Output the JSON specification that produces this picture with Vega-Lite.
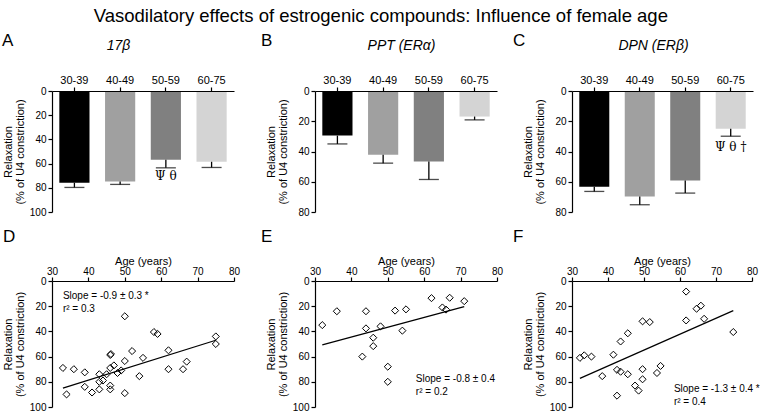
{
  "$schema": "https://vega.github.io/schema/vega-lite/v6.json",
  "title": {"text": "Vasodilatory effects of estrogenic compounds: Influence of female age", "fontSize": 18.5, "fontWeight": "normal", "anchor": "middle", "offset": 7, "color": "#000"},
  "padding": {"left": 2, "top": 6, "right": 0, "bottom": 0},
  "spacing": 10,
  "resolve": {"scale": {"color": "shared"}},
  "hconcat": [
    {"hconcat": [
      {"vconcat": [
        {
          "title": {"text": "A", "anchor": "start", "frame": "group", "dx": -50, "offset": -12, "fontSize": 17, "fontWeight": "normal"},
          "width": 182, "height": 121,
          "data": {"values": [
            {"age": "30-39", "mean": 75.8, "upper": 79.7},
            {"age": "40-49", "mean": 74.7, "upper": 77.2},
            {"age": "50-59", "mean": 56.9, "upper": 63.5},
            {"age": "60-75", "mean": 58.5, "upper": 63.2}
          ]},
          "encoding": {"x": {"field": "age", "type": "nominal", "sort": null, "scale": {"paddingInner": 0.34, "paddingOuter": 0.16},
            "axis": {"orient": "top", "labelAngle": 0, "title": "17β", "titleFontStyle": "italic", "titleFontSize": 14, "titlePadding": 22, "titleX": 66, "labelFontSize": 11, "labelPadding": 2, "zindex": 1}}},
          "layer": [
            {"mark": {"type": "bar"}, "encoding": {
              "y": {"field": "mean", "type": "quantitative", "scale": {"domain": [0, 100], "reverse": true},
                "axis": {"values": [0, 20, 40, 60, 80, 100], "tickCount": 12, "labelOverlap": false, "title": ["Relaxation", "(% of U4 constriction)"], "titleFontSize": 11, "titleLineHeight": 12, "labelFontSize": 10, "labelPadding": 2, "minExtent": 22, "maxExtent": 22, "titlePadding": 5}},
              "color": {"field": "age", "type": "nominal", "scale": {"domain": ["30-39", "40-49", "50-59", "60-75"], "range": ["#000000", "#a0a0a0", "#808080", "#d4d4d4"]}, "legend": null}}},
            {"mark": {"type": "rule", "color": "#000", "strokeWidth": 1.3}, "encoding": {"y": {"field": "mean", "type": "quantitative"}, "y2": {"field": "upper"}}},
            {"mark": {"type": "tick", "color": "#000", "thickness": 1.3, "size": 20, "orient": "horizontal"}, "encoding": {"y": {"field": "upper", "type": "quantitative"}}},
            {"data": {"values": [{}]}, "mark": {"type": "text", "text": "Ψ θ", "font": "DejaVu Serif", "fontSize": 12, "color": "#000", "baseline": "middle", "align": "center"}, "encoding": {"x": {"datum": "50-59"}, "y": {"datum": 70}}}
          ]
        },
        {
          "title": {"text": "D", "anchor": "start", "frame": "group", "dx": -49, "offset": 9, "fontSize": 17, "fontWeight": "normal"},
          "width": 182, "height": 126,
          "layer": [
            {"data": {"values": [
              {"age": 33, "relax": 69}, {"age": 34, "relax": 90}, {"age": 36, "relax": 70}, {"age": 39, "relax": 72.5},
              {"age": 39, "relax": 84}, {"age": 41, "relax": 88.5}, {"age": 43, "relax": 74}, {"age": 43, "relax": 80},
              {"age": 43, "relax": 86}, {"age": 44, "relax": 79}, {"age": 45, "relax": 74}, {"age": 46, "relax": 58.7},
              {"age": 46.2, "relax": 58}, {"age": 46, "relax": 69}, {"age": 46, "relax": 83}, {"age": 46, "relax": 86},
              {"age": 47, "relax": 67}, {"age": 48, "relax": 73}, {"age": 49, "relax": 71}, {"age": 50, "relax": 28},
              {"age": 50, "relax": 63.5}, {"age": 50, "relax": 89}, {"age": 52, "relax": 55.6}, {"age": 54, "relax": 75.5},
              {"age": 55, "relax": 61}, {"age": 58, "relax": 40.5}, {"age": 59, "relax": 42}, {"age": 62, "relax": 55},
              {"age": 62, "relax": 70}, {"age": 66, "relax": 70}, {"age": 67, "relax": 64}, {"age": 75, "relax": 44},
              {"age": 75, "relax": 50}
            ]},
              "mark": {"type": "point", "shape": "diamond", "filled": false, "size": 50, "color": "#000", "strokeWidth": 1, "opacity": 1},
              "encoding": {
                "x": {"field": "age", "type": "quantitative", "scale": {"domain": [30, 80], "nice": false},
                  "axis": {"orient": "top", "values": [30, 40, 50, 60, 70, 80], "tickCount": 12, "labelOverlap": false, "title": "Age (years)", "titleFontSize": 11, "titlePadding": 0, "labelFontSize": 10, "labelPadding": 1, "labelFlush": false}},
                "y": {"field": "relax", "type": "quantitative", "scale": {"domain": [0, 100], "reverse": true},
                  "axis": {"values": [0, 20, 40, 60, 80, 100], "tickCount": 12, "labelOverlap": false, "title": ["Relaxation", "(% of U4 constriction)"], "titleFontSize": 11, "titleLineHeight": 12, "labelFontSize": 10, "labelPadding": 2, "minExtent": 22, "maxExtent": 22, "titlePadding": 5}}}},
            {"data": {"values": [{"age": 33, "relax": 85}, {"age": 75, "relax": 47}]},
              "mark": {"type": "line", "color": "#000", "strokeWidth": 1.2},
              "encoding": {"x": {"field": "age", "type": "quantitative"}, "y": {"field": "relax", "type": "quantitative"}}},
            {"data": {"values": [{}]},
              "mark": {"type": "text", "text": ["Slope = -0.9 ± 0.3  *", "r² = 0.3"], "align": "left", "baseline": "top", "fontSize": 10, "lineHeight": 13, "color": "#000"},
              "encoding": {"x": {"datum": 33}, "y": {"datum": 8}}}
          ]
        }
      ], "spacing": 11},
      {"vconcat": [
        {
          "title": {"text": "B", "anchor": "start", "frame": "group", "dx": -54, "offset": -12, "fontSize": 17, "fontWeight": "normal"},
          "width": 182, "height": 121,
          "data": {"values": [
            {"age": "30-39", "mean": 29.5, "upper": 35},
            {"age": "40-49", "mean": 42.2, "upper": 47.7},
            {"age": "50-59", "mean": 46.6, "upper": 58.5},
            {"age": "60-75", "mean": 16.9, "upper": 19.1}
          ]},
          "encoding": {"x": {"field": "age", "type": "nominal", "sort": null, "scale": {"paddingInner": 0.34, "paddingOuter": 0.16},
            "axis": {"orient": "top", "labelAngle": 0, "title": "PPT (ERα)", "titleFontStyle": "italic", "titleFontSize": 14, "titlePadding": 22, "titleX": 86, "labelFontSize": 11, "labelPadding": 2, "zindex": 1}}},
          "layer": [
            {"mark": {"type": "bar"}, "encoding": {
              "y": {"field": "mean", "type": "quantitative", "scale": {"domain": [0, 80], "reverse": true},
                "axis": {"values": [0, 20, 40, 60, 80], "tickCount": 12, "labelOverlap": false, "title": ["Relaxation", "(% of U4 constriction)"], "titleFontSize": 11, "titleLineHeight": 12, "labelFontSize": 10, "labelPadding": 2, "minExtent": 22, "maxExtent": 22, "titlePadding": 5}},
              "color": {"field": "age", "type": "nominal", "legend": null}}},
            {"mark": {"type": "rule", "color": "#000", "strokeWidth": 1.3}, "encoding": {"y": {"field": "mean", "type": "quantitative"}, "y2": {"field": "upper"}}},
            {"mark": {"type": "tick", "color": "#000", "thickness": 1.3, "size": 20, "orient": "horizontal"}, "encoding": {"y": {"field": "upper", "type": "quantitative"}}}
          ]
        },
        {
          "title": {"text": "E", "anchor": "start", "frame": "group", "dx": -54, "offset": 9, "fontSize": 17, "fontWeight": "normal"},
          "width": 182, "height": 126,
          "layer": [
            {"data": {"values": [
              {"age": 32, "relax": 35}, {"age": 36, "relax": 24}, {"age": 43, "relax": 60}, {"age": 44, "relax": 24},
              {"age": 44, "relax": 37.6}, {"age": 46, "relax": 45}, {"age": 46, "relax": 51.7}, {"age": 48, "relax": 36},
              {"age": 50, "relax": 68}, {"age": 50, "relax": 80}, {"age": 52, "relax": 23.5}, {"age": 54, "relax": 39.4},
              {"age": 55, "relax": 22.5}, {"age": 62, "relax": 13.6}, {"age": 65, "relax": 21}, {"age": 66, "relax": 22.7},
              {"age": 67, "relax": 13.3}, {"age": 71, "relax": 16}
            ]},
              "mark": {"type": "point", "shape": "diamond", "filled": false, "size": 50, "color": "#000", "strokeWidth": 1, "opacity": 1},
              "encoding": {
                "x": {"field": "age", "type": "quantitative", "scale": {"domain": [30, 80], "nice": false},
                  "axis": {"orient": "top", "values": [30, 40, 50, 60, 70, 80], "tickCount": 12, "labelOverlap": false, "title": "Age (years)", "titleFontSize": 11, "titlePadding": 0, "labelFontSize": 10, "labelPadding": 1, "labelFlush": false}},
                "y": {"field": "relax", "type": "quantitative", "scale": {"domain": [0, 100], "reverse": true},
                  "axis": {"values": [0, 20, 40, 60, 80, 100], "tickCount": 12, "labelOverlap": false, "title": ["Relaxation", "(% of U4 constriction)"], "titleFontSize": 11, "titleLineHeight": 12, "labelFontSize": 10, "labelPadding": 2, "minExtent": 22, "maxExtent": 22, "titlePadding": 5}}}},
            {"data": {"values": [{"age": 32, "relax": 50.7}, {"age": 71, "relax": 20.4}]},
              "mark": {"type": "line", "color": "#000", "strokeWidth": 1.2},
              "encoding": {"x": {"field": "age", "type": "quantitative"}, "y": {"field": "relax", "type": "quantitative"}}},
            {"data": {"values": [{}]},
              "mark": {"type": "text", "text": ["Slope = -0.8 ± 0.4", "r² = 0.2"], "align": "left", "baseline": "top", "fontSize": 10, "lineHeight": 13, "color": "#000"},
              "encoding": {"x": {"datum": 57.7}, "y": {"datum": 73.5}}}
          ]
        }
      ], "spacing": 11}
    ], "spacing": 21},
    {"vconcat": [
      {
        "title": {"text": "C", "anchor": "start", "frame": "group", "dx": -59, "offset": -12, "fontSize": 17, "fontWeight": "normal"},
        "width": 181, "height": 121,
        "data": {"values": [
          {"age": "30-39", "mean": 63.3, "upper": 66.4},
          {"age": "40-49", "mean": 69.7, "upper": 75.2},
          {"age": "50-59", "mean": 59.1, "upper": 67.5},
          {"age": "60-75", "mean": 25, "upper": 29.9}
        ]},
        "encoding": {"x": {"field": "age", "type": "nominal", "sort": null, "scale": {"paddingInner": 0.34, "paddingOuter": 0.16},
          "axis": {"orient": "top", "labelAngle": 0, "title": "DPN (ERβ)", "titleFontStyle": "italic", "titleFontSize": 14, "titlePadding": 22, "titleX": 81, "labelFontSize": 11, "labelPadding": 2, "zindex": 1}}},
        "layer": [
          {"mark": {"type": "bar"}, "encoding": {
            "y": {"field": "mean", "type": "quantitative", "scale": {"domain": [0, 80], "reverse": true},
              "axis": {"values": [0, 20, 40, 60, 80], "tickCount": 12, "labelOverlap": false, "title": ["Relaxation", "(% of U4 constriction)"], "titleFontSize": 11, "titleLineHeight": 12, "labelFontSize": 10, "labelPadding": 2, "minExtent": 22, "maxExtent": 22, "titlePadding": 5}},
            "color": {"field": "age", "type": "nominal", "legend": null}}},
          {"mark": {"type": "rule", "color": "#000", "strokeWidth": 1.3}, "encoding": {"y": {"field": "mean", "type": "quantitative"}, "y2": {"field": "upper"}}},
          {"mark": {"type": "tick", "color": "#000", "thickness": 1.3, "size": 20, "orient": "horizontal"}, "encoding": {"y": {"field": "upper", "type": "quantitative"}}},
          {"data": {"values": [{}]}, "mark": {"type": "text", "text": "Ψ θ †", "font": "DejaVu Serif", "fontSize": 12, "color": "#000", "baseline": "middle", "align": "center"}, "encoding": {"x": {"datum": "60-75"}, "y": {"datum": 37}}}
        ]
      },
      {
        "title": {"text": "F", "anchor": "start", "frame": "group", "dx": -59, "offset": 9, "fontSize": 17, "fontWeight": "normal"},
        "width": 180, "height": 126,
        "layer": [
          {"data": {"values": [
            {"age": 32.2, "relax": 61}, {"age": 33.4, "relax": 59}, {"age": 35.4, "relax": 60}, {"age": 38.4, "relax": 75.5},
            {"age": 41.5, "relax": 58.5}, {"age": 42.5, "relax": 91}, {"age": 42.5, "relax": 70.5}, {"age": 43.5, "relax": 72},
            {"age": 43.5, "relax": 48}, {"age": 45.5, "relax": 41.5}, {"age": 45.5, "relax": 74}, {"age": 47.5, "relax": 83},
            {"age": 48.5, "relax": 87}, {"age": 49.6, "relax": 32}, {"age": 49.6, "relax": 70}, {"age": 49.6, "relax": 78},
            {"age": 51.6, "relax": 32.6}, {"age": 53.6, "relax": 73}, {"age": 54.6, "relax": 67.4}, {"age": 61.7, "relax": 8.4},
            {"age": 61.7, "relax": 31.3}, {"age": 64.6, "relax": 22}, {"age": 65.8, "relax": 19.6}, {"age": 66.7, "relax": 30},
            {"age": 74.8, "relax": 40.5}
          ]},
            "mark": {"type": "point", "shape": "diamond", "filled": false, "size": 50, "color": "#000", "strokeWidth": 1, "opacity": 1},
            "encoding": {
              "x": {"field": "age", "type": "quantitative", "scale": {"domain": [30, 80], "nice": false},
                "axis": {"orient": "top", "values": [30, 40, 50, 60, 70, 80], "tickCount": 12, "labelOverlap": false, "title": "Age (years)", "titleFontSize": 11, "titlePadding": 0, "labelFontSize": 10, "labelPadding": 1, "labelFlush": false}},
              "y": {"field": "relax", "type": "quantitative", "scale": {"domain": [0, 100], "reverse": true},
                "axis": {"values": [0, 20, 40, 60, 80, 100], "tickCount": 12, "labelOverlap": false, "title": ["Relaxation", "(% of U4 constriction)"], "titleFontSize": 11, "titleLineHeight": 12, "labelFontSize": 10, "labelPadding": 2, "minExtent": 22, "maxExtent": 22, "titlePadding": 5}}}},
          {"data": {"values": [{"age": 32.2, "relax": 77.3}, {"age": 74.8, "relax": 23.5}]},
            "mark": {"type": "line", "color": "#000", "strokeWidth": 1.2},
            "encoding": {"x": {"field": "age", "type": "quantitative"}, "y": {"field": "relax", "type": "quantitative"}}},
          {"data": {"values": [{}]},
            "mark": {"type": "text", "text": ["Slope = -1.3 ± 0.4 *", "r² = 0.4"], "align": "left", "baseline": "top", "fontSize": 10, "lineHeight": 13, "color": "#000"},
            "encoding": {"x": {"datum": 58.3}, "y": {"datum": 81.5}}}
        ]
      }
    ], "spacing": 11}
  ],
  "config": {
    "font": "Liberation Sans",
    "view": {"stroke": null},
    "axis": {"grid": false, "labelOverlap": false, "domainColor": "#000", "tickColor": "#000", "labelColor": "#000", "titleColor": "#000", "titleFontWeight": "normal", "domainWidth": 1.2, "tickWidth": 1.2, "tickSize": 4},
    "title": {"color": "#000"}
  }
}
